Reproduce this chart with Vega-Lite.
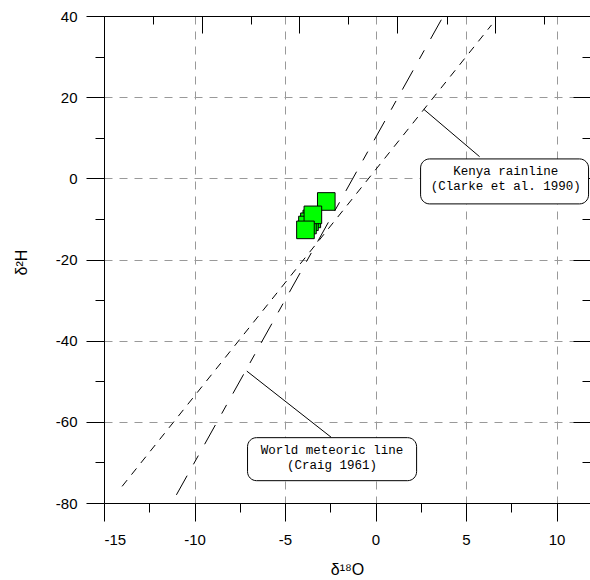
{
  "$schema": "https://vega.github.io/schema/vega-lite/v6.json",
  "width": 486,
  "height": 487,
  "autosize": "none",
  "padding": {"left": 104, "top": 16, "right": 0, "bottom": 77},
  "background": "white",
  "config": {
    "view": {"stroke": null},
    "axis": {
      "labelFont": "Liberation Sans",
      "titleFont": "Liberation Sans",
      "tickColor": "black",
      "domainColor": "black",
      "labelColor": "black",
      "titleColor": "black",
      "titleFontWeight": "normal",
      "grid": false,
      "tickWidth": 1,
      "domainWidth": 1
    }
  },
  "datasets": {
    "kenya": [{"x": -14.0, "y": -75.9}, {"x": 6.41, "y": 37.8}],
    "wml": [{"x": -11.0, "y": -78.0}, {"x": 3.7, "y": 39.6}],
    "leaders": [
      {"id": "k", "x": 2.67, "y": 17.0}, {"id": "k", "x": 5.75, "y": 5.34},
      {"id": "w", "x": -7.11, "y": -47.5}, {"id": "w", "x": -2.45, "y": -63.8}
    ],
    "boxes": [
      {"x": 2.49, "x2": 11.77, "y": 4.78, "y2": -6.3},
      {"x": -7.07, "x2": 2.27, "y": -63.9, "y2": -74.5}
    ],
    "labels": [
      {"x": 7.2, "y": 1.8, "t": "Kenya rainline"},
      {"x": 7.2, "y": -1.9, "t": "(Clarke et al. 1990)"},
      {"x": -2.4, "y": -66.9, "t": "World meteoric line"},
      {"x": -2.4, "y": -70.6, "t": "(Craig 1961)"}
    ],
    "samples": [
      {"x": -2.72, "y": -5.7},
      {"x": -3.52, "y": -10.0},
      {"x": -3.65, "y": -10.7},
      {"x": -3.76, "y": -11.5},
      {"x": -3.46, "y": -9.0},
      {"x": -3.87, "y": -12.7}
    ]
  },
  "layer": [
    {
      "data": {"name": "kenya"},
      "mark": {"type": "line", "color": "black", "strokeWidth": 1, "strokeDash": [8, 7]},
      "encoding": {
        "x": {
          "field": "x", "type": "quantitative",
          "scale": {"domain": [-15, 11.85], "nice": false, "zero": false},
          "axis": {
            "orient": "bottom",
            "values": [-15, -10, -5, 0, 5, 10],
            "labelExpr": "datum.value < 0 ? '-' + abs(datum.value) : '' + datum.value",
            "tickSize": 18,
            "labelFontSize": 15,
            "labelPadding": 11,
            "grid": true,
            "gridColor": "#999999",
            "gridDash": [8, 7],
            "gridOpacity": {"condition": {"test": "datum.value == -15", "value": 0}, "value": 1},
            "title": "δ¹⁸O",
            "titleFontSize": 16,
            "titleY": 66,
            "titleBaseline": "middle"
          }
        },
        "y": {
          "field": "y", "type": "quantitative",
          "scale": {"domain": [-80, 40], "nice": false, "zero": false},
          "axis": {
            "orient": "left",
            "values": [-80, -60, -40, -20, 0, 20, 40],
            "labelExpr": "datum.value < 0 ? '-' + abs(datum.value) : '' + datum.value",
            "tickSize": 18,
            "labelFontSize": 15,
            "labelPadding": 9,
            "grid": true,
            "gridColor": "#999999",
            "gridDash": [8, 7],
            "gridOpacity": {"condition": {"test": "datum.value == 40 || datum.value == -80", "value": 0}, "value": 1},
            "title": "δ²H",
            "titleFontSize": 16,
            "titleX": -83,
            "titleY": 246,
            "titleBaseline": "middle"
          }
        }
      }
    },
    {
      "data": {"name": "wml"},
      "mark": {"type": "line", "color": "black", "strokeWidth": 1, "strokeDash": [22, 13, 10, 13]},
      "encoding": {
        "x": {
          "field": "x", "type": "quantitative",
          "scale": {"domain": [-15, 11.85], "nice": false, "zero": false},
          "axis": {"orient": "bottom", "values": [-12.5, -7.5, -2.5, 2.5, 7.5], "tickSize": 9, "labels": false, "domain": false, "title": null}
        },
        "y": {
          "field": "y", "type": "quantitative",
          "scale": {"domain": [-80, 40], "nice": false, "zero": false},
          "axis": {"orient": "left", "values": [-70, -50, -30, -10, 10, 30], "tickSize": 9, "labels": false, "domain": false, "title": null}
        }
      }
    },
    {
      "data": {"name": "leaders"},
      "mark": {"type": "line", "color": "black", "strokeWidth": 1},
      "encoding": {
        "detail": {"field": "id"},
        "x": {
          "field": "x", "type": "quantitative",
          "scale": {"domain": [-15, 11.85], "nice": false, "zero": false},
          "axis": {"orient": "top", "values": [-15, -9.6, -4.21, 1.17, 6.6], "tickSize": -17, "labels": false, "domain": true, "title": null}
        },
        "y": {
          "field": "y", "type": "quantitative",
          "scale": {"domain": [-80, 40], "nice": false, "zero": false},
          "axis": {"orient": "right", "values": [-80, -60, -40, -20, 0, 20, 40], "tickSize": -17, "labels": false, "domain": false, "title": null}
        }
      }
    },
    {
      "data": {"name": "boxes"},
      "mark": {"type": "rect", "fill": "white", "stroke": "black", "strokeWidth": 1, "cornerRadius": 9},
      "encoding": {
        "x": {
          "field": "x", "type": "quantitative",
          "scale": {"domain": [-15, 11.85], "nice": false, "zero": false},
          "axis": {"orient": "top", "values": [-12.28, -6.88, -1.5, 3.94, 9.33], "tickSize": -8, "labels": false, "domain": false, "title": null}
        },
        "x2": {"field": "x2"},
        "y": {
          "field": "y", "type": "quantitative",
          "scale": {"domain": [-80, 40], "nice": false, "zero": false},
          "axis": {"orient": "right", "values": [-70, -50, -30, -10, 10, 30], "tickSize": -8, "labels": false, "domain": false, "title": null}
        },
        "y2": {"field": "y2"}
      }
    },
    {
      "data": {"name": "labels"},
      "mark": {"type": "text", "font": "Liberation Mono", "fontSize": 12.5, "color": "black", "align": "center", "baseline": "middle"},
      "encoding": {
        "x": {"field": "x", "type": "quantitative", "axis": null},
        "y": {"field": "y", "type": "quantitative", "axis": null},
        "text": {"field": "t"}
      }
    },
    {
      "data": {"name": "samples"},
      "mark": {"type": "point", "shape": "square", "filled": true, "fill": "#00ff00", "stroke": "black", "strokeWidth": 1, "size": 310, "opacity": 1},
      "encoding": {
        "x": {"field": "x", "type": "quantitative", "axis": null},
        "y": {"field": "y", "type": "quantitative", "axis": null}
      }
    }
  ],
  "resolve": {"axis": {"x": "independent", "y": "independent"}}
}
